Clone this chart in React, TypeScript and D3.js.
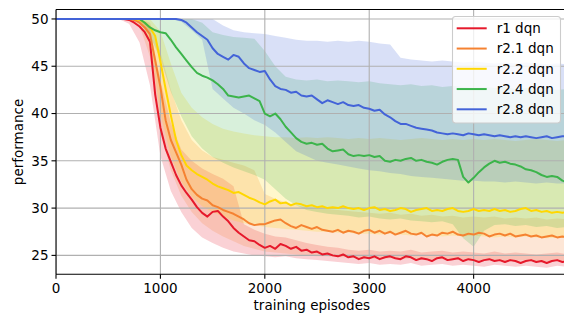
import { useEffect, useRef } from 'react';
import * as d3 from 'd3';

// sample grid of the smoothed curves (every 50 episodes) and of the bands (every 100)
const episodes = d3.range(0, 4901, 50);
const bandEpisodes = d3.range(0, 4901, 100);

const r1Mean = [
  50, 50, 50, 50, 50, 50, 50, 50, 50, 50, 50, 50, 50, 50,
  49.9, 49.6, 49.2, 48.6, 47.6, 42.0, 38.5, 36.3, 34.9, 33.5,
  32.4, 31.6, 30.9, 30.1, 29.5, 29.1, 29.6, 29.7, 29.1, 28.6,
  27.9, 27.4, 27.0, 26.6, 26.5, 26.1, 25.8, 26.0, 25.7, 26.2,
  26.0, 25.7, 25.9, 25.5, 25.6, 25.3, 25.4, 25.1, 25.2, 25.0,
  24.9, 25.1, 24.8, 24.9, 24.6, 24.8, 24.7, 24.9, 24.6, 24.8,
  24.9, 24.7, 24.6, 24.9, 24.8, 24.5, 24.7, 24.6, 24.4, 24.7,
  24.8, 24.5, 24.6, 24.7, 24.4, 24.6, 24.5, 24.3, 24.5, 24.6,
  24.4, 24.5, 24.3, 24.5, 24.4, 24.2, 24.4, 24.5, 24.3, 24.4,
  24.2, 24.4, 24.5, 24.3, 24.4,
];
const r21Mean = [
  50, 50, 50, 50, 50, 50, 50, 50, 50, 50, 50, 50, 50, 50, 50,
  49.9, 49.6, 49.1, 48.4, 45.6, 42.8, 39.3, 37.2, 35.9, 34.6,
  33.0, 32.0, 31.4, 31.0, 30.8, 30.3, 30.1, 29.8, 29.6, 29.4,
  29.1, 28.8, 28.4, 28.2, 28.3, 28.3, 28.5, 28.7, 28.8, 28.4,
  28.1, 27.9, 28.2, 28.0, 27.8, 28.0, 27.7, 27.6, 27.5, 27.7,
  27.4, 27.6, 27.5, 27.3, 27.6, 27.7, 27.4, 27.6, 27.3, 27.5,
  27.2, 27.4, 27.6, 27.3, 27.2, 27.4, 27.0, 27.2, 27.1, 27.4,
  27.3, 27.5, 27.2, 27.1, 27.3, 27.2, 27.4, 27.3, 27.0, 27.2,
  27.3, 27.1, 27.3, 27.0, 27.1, 27.2, 27.0, 27.1, 26.9, 27.0,
  27.1, 26.9, 27.0, 26.9,
];
const r22Mean = [
  50, 50, 50, 50, 50, 50, 50, 50, 50, 50, 50, 50, 50, 50, 50, 50,
  49.9, 49.6, 49.1, 48.2, 45.5, 42.6, 39.8, 37.2, 35.6, 34.5,
  34.0, 33.6, 33.3, 33.0, 32.6, 32.3, 32.1, 31.9, 31.6, 31.7,
  31.4, 31.1, 30.9, 30.6, 30.4, 30.7, 30.9, 30.5, 30.6, 30.3,
  30.5, 30.4, 30.2, 30.3, 30.1, 30.2, 30.0, 30.1, 30.0, 30.2,
  30.0, 29.9, 30.0, 29.8, 30.0, 30.1, 29.8, 29.9, 29.7, 29.8,
  30.0, 29.9, 29.6, 29.8, 29.9, 30.0, 29.7, 29.8, 29.7, 29.9,
  30.0, 29.7, 29.6, 29.7, 29.9, 29.7, 29.8, 29.7, 29.9, 29.7,
  29.8, 29.6, 29.7, 29.9, 30.0, 29.7, 29.8, 29.6, 29.7, 29.5,
  29.6, 29.5, 29.6,
];
const r24Mean = [
  50, 50, 50, 50, 50, 50, 50, 50, 50, 50, 50, 50, 50, 50, 50, 50,
  50.0, 49.6, 49.1, 48.8, 48.6, 48.5, 47.8, 47.0, 46.3, 45.6,
  44.9, 44.3, 44.0, 43.8, 43.5, 43.1, 42.6, 41.9, 41.8, 41.7,
  41.8, 41.9, 41.6, 41.3, 40.0, 39.7, 40.0, 39.4, 38.6, 38.0,
  37.4, 37.0, 36.8, 36.9, 36.7, 36.8, 36.3, 36.0, 36.1, 36.2,
  35.7, 35.5, 35.6, 35.5, 35.6, 35.4, 35.5, 35.0, 34.9, 35.1,
  35.0, 35.2, 35.3, 35.0, 35.1, 34.9, 34.8, 34.6, 34.9, 35.1,
  35.2, 35.1, 33.3, 32.7, 33.2, 33.8, 34.3, 34.7, 35.0, 34.8,
  34.9, 34.7, 34.6, 34.4, 34.1, 34.0, 33.8, 33.5, 33.3, 33.4,
  33.3, 32.9, 32.7,
];
const r28Mean = [
  50, 50, 50, 50, 50, 50, 50, 50, 50, 50, 50, 50,
  50, 50, 50, 50, 50, 50, 50, 50, 50, 50, 50, 50,
  49.9, 49.6, 49.1, 48.6, 48.2, 47.8, 46.9, 46.3, 46.0, 45.7,
  46.2, 46.0, 45.3, 44.8, 44.6, 44.4, 44.5, 43.6, 42.9, 42.6,
  42.5, 42.2, 42.3, 41.9, 41.8, 41.9, 41.5, 41.1, 41.4, 41.2,
  41.0, 41.2, 40.9, 40.8, 40.9, 40.6, 40.5, 40.3, 40.4, 39.9,
  39.6, 39.2, 38.9, 38.9, 38.7, 38.5, 38.4, 38.3, 38.2, 38.0,
  37.9, 37.8, 37.9, 37.8, 37.7, 37.9, 37.8, 37.7, 37.8, 37.7,
  37.6, 37.7, 37.6, 37.5, 37.6, 37.5, 37.6, 37.5, 37.4, 37.5,
  37.6, 37.4, 37.5, 37.6, 37.6,
];

const r1Lo = [
  50, 50, 50, 50, 50, 50, 50,
  49.5, 47.5, 43.0, 35.5, 31.8, 29.6, 27.9, 26.9, 26.3, 25.8,
  25.4, 25.2, 25.0, 24.9, 24.8, 24.9, 24.7, 24.6, 24.5, 24.4,
  24.3, 24.2, 24.1, 24.2, 24.0, 24.1, 24.0, 24.2, 23.9, 24.0,
  24.1, 23.9, 24.0, 23.9, 23.8, 24.0, 23.9, 23.8, 23.9, 23.8,
  23.7, 23.9, 23.8,
];
const r1Hi = [
  50, 50, 50, 50, 50, 50, 50, 50, 50,
  49.0, 43.5, 39.0, 36.2, 35.0, 34.2, 33.6, 33.1, 32.3, 28.3,
  27.7, 27.3, 27.0, 26.9, 26.6, 26.3, 26.1, 25.9, 25.8, 25.6,
  25.5, 25.6, 25.4, 25.5, 25.4, 25.6, 25.3, 25.4, 25.5, 25.3,
  25.4, 25.3, 25.2, 25.4, 25.2, 25.3, 25.2, 25.1, 25.2, 25.3,
  25.1,
];
const r21Lo = [
  50, 50, 50, 50, 50, 50, 50, 50,
  49.3, 46.0, 38.0, 34.0, 31.3, 29.6, 28.4, 27.6, 27.0, 26.5,
  26.0, 25.7, 25.4, 25.3, 25.2, 25.1, 25.0, 24.9, 24.9, 24.8,
  24.8, 24.7, 24.7, 24.6, 24.7, 24.6, 24.7, 24.5, 24.6, 24.6,
  24.5, 24.6, 24.4, 24.5, 24.5, 24.4, 24.4, 24.5, 24.3, 24.4,
  24.4, 24.3,
];
const r21Hi = [
  50, 50, 50, 50, 50, 50, 50, 50, 50,
  49.6, 46.5, 42.5, 39.3, 37.2, 36.1, 35.4, 35.1, 34.8, 34.5,
  34.0, 31.5, 31.0, 30.6, 30.3, 30.1, 30.0, 29.9, 29.8, 29.7,
  29.6, 29.5, 29.4, 29.5, 29.3, 29.4, 29.2, 29.3, 29.1, 29.2,
  29.0, 29.1, 29.0, 29.1, 28.9, 29.0, 28.9, 29.0, 28.8, 28.9,
  28.8,
];
const r22Lo = [
  50, 50, 50, 50, 50, 50, 50, 50, 50,
  47.5, 40.0, 35.5, 32.8, 31.2, 30.2, 29.6, 29.1, 28.7, 28.4,
  28.2, 28.0, 27.9, 27.8, 27.7, 27.6, 27.5, 27.5, 27.4, 27.4,
  27.3, 27.3, 27.2, 27.3, 27.2, 27.1, 27.2, 27.1, 27.0, 27.1,
  27.0, 27.1, 27.0, 26.9, 27.0, 26.9, 27.0, 26.9, 26.8, 26.9,
  26.8,
];
const r22Hi = [
  50, 50, 50, 50, 50, 50, 50, 50, 50, 50,
  48.7, 45.3, 42.2, 40.6, 39.6, 38.9, 38.4, 38.1, 37.9, 37.7,
  37.6, 37.5, 37.5, 37.4, 37.5, 37.4, 37.5, 37.4, 37.3, 37.4,
  37.3, 37.4, 37.3, 37.2, 37.3, 37.4, 37.3, 37.2, 37.3, 37.2,
  37.3, 37.2, 37.3, 37.2, 37.1, 37.2, 37.3, 37.2, 37.1, 37.2,
];
const r24Lo = [
  50, 50, 50, 50, 50, 50, 50, 50,
  49.6, 48.2, 45.8, 42.3, 39.7, 37.6, 36.3, 35.4, 34.8, 34.3,
  33.9, 33.5, 33.0, 32.0, 31.0, 30.3, 29.8, 29.6, 29.4, 29.3,
  29.2, 29.0, 29.1, 28.9, 28.8, 28.9, 28.7, 28.6, 28.5, 28.6,
  28.3, 26.8, 25.9, 27.6, 28.2, 28.3, 28.1, 28.2, 28.0, 28.1,
  27.9, 28.0,
];
const r24Hi = [
  50, 50, 50, 50, 50, 50, 50, 50, 50, 50, 50, 50, 50, 50,
  49.6, 48.6, 48.3, 48.1, 48.0, 47.9, 46.6, 45.0, 43.9, 43.6,
  43.5, 43.6, 43.4, 43.5, 43.4, 43.3, 43.4, 43.2, 43.1, 43.0,
  43.1, 42.9, 43.0, 42.8, 42.9, 42.8, 42.7, 42.8, 42.7, 42.8,
  42.6, 42.7, 42.6, 42.7, 42.5, 42.6,
];
const r28Lo = [
  50, 50, 50, 50, 50, 50, 50, 50, 50, 50, 50, 50,
  49.7, 48.8, 47.8, 42.6, 41.6, 40.6, 40.0, 39.3, 38.8, 38.0,
  37.0, 36.0, 35.5, 35.0, 34.8, 34.6, 34.4, 34.2, 34.0, 33.9,
  33.7, 33.6, 33.4, 33.3, 33.2, 33.1, 33.0, 32.9, 32.9, 32.8,
  32.8, 32.7, 32.8, 32.7, 32.6, 32.7, 32.6, 32.6,
];
const r28Hi = [
  50, 50, 50, 50, 50, 50, 50, 50, 50, 50, 50, 50, 50, 50, 50, 50,
  49.3, 48.8, 48.6, 48.5, 48.4, 48.2, 48.0, 47.8, 47.7, 47.7,
  47.6, 47.7, 47.6, 47.7, 47.6, 47.4, 47.3, 45.9, 45.7, 45.6,
  45.5, 45.6, 45.5, 45.4, 45.5, 45.4, 45.3, 45.4, 45.3, 45.4,
  45.3, 45.2, 45.3, 45.2,
];

const seriesNames = ['r1 dqn', 'r2.1 dqn', 'r2.2 dqn', 'r2.4 dqn', 'r2.8 dqn'];
const seriesColors = ['#e6192b', '#f58231', '#ffd700', '#3cb44b', '#4363d8'];
const means = [r1Mean, r21Mean, r22Mean, r24Mean, r28Mean];
const lows = [r1Lo, r21Lo, r22Lo, r24Lo, r28Lo];
const highs = [r1Hi, r21Hi, r22Hi, r24Hi, r28Hi];

const xTicks = [0, 1000, 2000, 3000, 4000];
const yTicks = [25, 30, 35, 40, 45, 50];

const W = 564;
const H = 320;
const FONT = '"DejaVu Sans", sans-serif';

export default function App() {
  const svgRef = useRef<SVGSVGElement>(null);

  useEffect(() => {
    if (!svgRef.current) return;
    const svg = d3.select(svgRef.current);
    svg.selectAll('*').remove();

    const left = 56;
    const right = 567.6;
    const top = 9.5;
    const bottom = 274.3;

    const x = d3.scaleLinear().domain([0, 4900]).range([left, right]);
    const y = d3.scaleLinear().domain([23, 51]).range([bottom, top]);

    svg.append('rect').attr('width', W).attr('height', H).attr('fill', '#fff');

    svg
      .append('defs')
      .append('clipPath')
      .attr('id', 'plot-clip')
      .append('rect')
      .attr('x', left)
      .attr('y', top)
      .attr('width', right - left)
      .attr('height', bottom - top);

    const plot = svg.append('g').attr('clip-path', 'url(#plot-clip)');

    // bands first (they sit under grid and lines)
    const area = d3
      .area<number>()
      .x((_, i) => x(bandEpisodes[i]))
      .y0((d) => y(d))
      .y1((_, i) => 0);

    means.forEach((_, s) => {
      const lo = lows[s];
      const hi = highs[s];
      const a = d3
        .area<number>()
        .x((_, i) => x(bandEpisodes[i]))
        .y0((_, i) => y(lo[i]))
        .y1((_, i) => y(hi[i]));
      plot
        .append('path')
        .attr('d', a(lo) ?? '')
        .attr('fill', seriesColors[s])
        .attr('fill-opacity', 0.2);
    });
    void area;

    // grid
    const grid = plot.append('g').attr('stroke', '#b0b0b0').attr('stroke-width', 1.1);
    xTicks.forEach((t) => {
      grid.append('line').attr('x1', x(t)).attr('x2', x(t)).attr('y1', top).attr('y2', bottom);
    });
    yTicks.forEach((t) => {
      grid.append('line').attr('x1', left).attr('x2', right).attr('y1', y(t)).attr('y2', y(t));
    });

    // mean curves
    const line = d3
      .line<number>()
      .x((_, i) => x(episodes[i]))
      .y((d) => y(d));

    means.forEach((m, s) => {
      plot
        .append('path')
        .attr('d', line(m) ?? '')
        .attr('fill', 'none')
        .attr('stroke', seriesColors[s])
        .attr('stroke-width', 2)
        .attr('stroke-linejoin', 'round');
    });

    // spines
    const spines = svg.append('g').attr('stroke', '#000').attr('stroke-width', 1.1);
    spines.append('line').attr('x1', left).attr('x2', left).attr('y1', top).attr('y2', bottom);
    spines.append('line').attr('x1', left).attr('x2', right).attr('y1', bottom).attr('y2', bottom);
    spines.append('line').attr('x1', left).attr('x2', right).attr('y1', top).attr('y2', top);

    // x axis ticks and labels
    xTicks.forEach((t) => {
      svg
        .append('line')
        .attr('x1', x(t))
        .attr('x2', x(t))
        .attr('y1', bottom)
        .attr('y2', bottom + 4.5)
        .attr('stroke', '#000')
        .attr('stroke-width', 1.1);
      svg
        .append('text')
        .attr('x', x(t))
        .attr('y', 293.3)
        .attr('text-anchor', 'middle')
        .style('font-family', FONT)
        .style('font-size', '13.5px')
        .attr('fill', '#000')
        .text(String(t));
    });

    yTicks.forEach((t) => {
      svg
        .append('line')
        .attr('x1', left - 4.5)
        .attr('x2', left)
        .attr('y1', y(t))
        .attr('y2', y(t))
        .attr('stroke', '#000')
        .attr('stroke-width', 1.1);
      svg
        .append('text')
        .attr('x', 48.5)
        .attr('y', y(t))
        .attr('dy', '0.36em')
        .attr('text-anchor', 'end')
        .style('font-family', FONT)
        .style('font-size', '13.5px')
        .attr('fill', '#000')
        .text(String(t));
    });

    svg
      .append('text')
      .attr('x', (left + right) / 2)
      .attr('y', 310)
      .attr('text-anchor', 'middle')
      .style('font-family', FONT)
      .style('font-size', '13.5px')
      .attr('fill', '#000')
      .text('training episodes');

    svg
      .append('text')
      .attr('transform', `translate(23,${(top + bottom) / 2}) rotate(-90)`)
      .attr('text-anchor', 'middle')
      .style('font-family', FONT)
      .style('font-size', '13.5px')
      .attr('fill', '#000')
      .text('performance');

    // legend
    const lg = svg.append('g');
    lg.append('rect')
      .attr('x', 452.5)
      .attr('y', 16.5)
      .attr('width', 108)
      .attr('height', 106.5)
      .attr('rx', 3)
      .attr('fill', '#fff')
      .attr('fill-opacity', 0.8)
      .attr('stroke', '#cccccc')
      .attr('stroke-width', 1.1);

    seriesNames.forEach((name, i) => {
      const ly = 28.3 + i * 20.25;
      lg.append('line')
        .attr('x1', 456.7)
        .attr('x2', 486.7)
        .attr('y1', ly)
        .attr('y2', ly)
        .attr('stroke', seriesColors[i])
        .attr('stroke-width', 2);
      lg.append('text')
        .attr('x', 496.7)
        .attr('y', ly)
        .attr('dy', '0.36em')
        .style('font-family', FONT)
        .style('font-size', '13.5px')
        .attr('fill', '#000')
        .text(name);
    });
  }, []);

  return (
    <svg
      ref={svgRef}
      width={W}
      height={H}
      style={{ position: 'absolute', left: 0, top: 0, display: 'block' }}
    />
  );
}
